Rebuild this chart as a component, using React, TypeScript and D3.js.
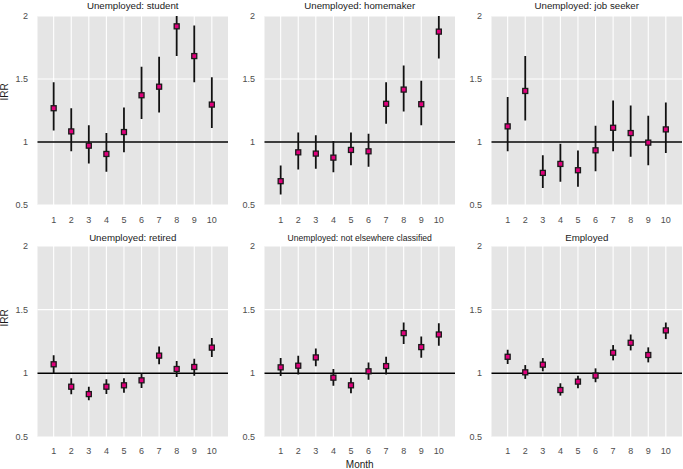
import React from "react";
import * as d3 from "d3";

const months = [1, 2, 3, 4, 5, 6, 7, 8, 9, 10];
const yTicks = [0.5, 1, 1.5, 2];
const yTickLabels = ["0.5", "1", "1.5", "2"];

const panelTitles = [
  "Unemployed: student",
  "Unemployed: homemaker",
  "Unemployed: job seeker",
  "Unemployed: retired",
  "Unemployed: not elsewhere classified",
  "Employed",
];

const studentIRR = [1.268, 1.084, 0.971, 0.905, 1.079, 1.371, 1.439, 1.918, 1.682, 1.297];
const studentLo = [1.092, 0.926, 0.829, 0.763, 0.918, 1.182, 1.234, 1.682, 1.474, 1.111];
const studentHi = [1.474, 1.268, 1.132, 1.071, 1.274, 1.597, 1.676, 2.15, 1.924, 1.513];

const homemakerIRR = [0.689, 0.918, 0.908, 0.876, 0.937, 0.926, 1.303, 1.416, 1.3, 1.876];
const homemakerLo = [0.584, 0.782, 0.787, 0.76, 0.816, 0.803, 1.145, 1.242, 1.132, 1.663];
const homemakerHi = [0.813, 1.076, 1.053, 1.008, 1.076, 1.066, 1.474, 1.608, 1.487, 2.12];

const seekerIRR = [1.124, 1.405, 0.755, 0.826, 0.776, 0.934, 1.113, 1.071, 0.995, 1.1];
const seekerLo = [0.926, 1.171, 0.634, 0.684, 0.645, 0.768, 0.926, 0.882, 0.816, 0.913];
const seekerHi = [1.358, 1.682, 0.895, 0.987, 0.932, 1.129, 1.329, 1.289, 1.208, 1.313];

const retiredIRR = [1.071, 0.895, 0.837, 0.895, 0.906, 0.945, 1.139, 1.034, 1.05, 1.202];
const retiredLo = [1.0, 0.835, 0.788, 0.837, 0.848, 0.885, 1.071, 0.971, 0.982, 1.129];
const retiredHi = [1.142, 0.961, 0.895, 0.953, 0.961, 1.0, 1.21, 1.097, 1.115, 1.278];

const necIRR = [1.047, 1.06, 1.125, 0.966, 0.906, 1.016, 1.057, 1.316, 1.206, 1.305];
const necLo = [0.979, 0.99, 1.055, 0.903, 0.843, 0.95, 0.99, 1.23, 1.123, 1.217];
const necHi = [1.12, 1.138, 1.196, 1.034, 0.966, 1.086, 1.13, 1.399, 1.29, 1.394];

const employedIRR = [1.13, 1.008, 1.068, 0.869, 0.935, 0.982, 1.162, 1.24, 1.144, 1.337];
const employedLo = [1.073, 0.956, 1.016, 0.825, 0.883, 0.93, 1.102, 1.18, 1.086, 1.269];
const employedHi = [1.185, 1.065, 1.12, 0.922, 0.982, 1.039, 1.222, 1.305, 1.204, 1.399];

const seriesIRR = [studentIRR, homemakerIRR, seekerIRR, retiredIRR, necIRR, employedIRR];
const seriesLo = [studentLo, homemakerLo, seekerLo, retiredLo, necLo, employedLo];
const seriesHi = [studentHi, homemakerHi, seekerHi, retiredHi, necHi, employedHi];

const W = 683;
const H = 469;
const colLefts = [37.5, 264.5, 491.5];
const panelW = 190.5;
const rowTops = [16, 246];
const rowBottoms = [205, 437];
const titleBaselines = [8.6, 240.5];
const xTickBaselines = [222.6, 454];
const titleSizes = [9.7, 9.7, 9.7, 9.7, 8.6, 9.7];

const BG = "#E5E5E5";
const TICK_COL = "#4D4D4D";
const FILL = "#E0007C";
const FONT = "'Liberation Sans', Arial, Helvetica, sans-serif";

function Panel({ idx }: { idx: number }) {
  const col = idx % 3;
  const row = Math.floor(idx / 3);
  const left = colLefts[col];
  const top = rowTops[row];
  const bottom = rowBottoms[row];
  const x = d3.scaleLinear().domain([0.08, 10.92]).range([left, left + panelW]);
  const y = d3.scaleLinear().domain([0.5, 2]).range([bottom, top]);
  const clipId = `clip-${idx}`;
  const irr = seriesIRR[idx];
  const lo = seriesLo[idx];
  const hi = seriesHi[idx];
  const sq = 5;
  return (
    <g>
      <defs>
        <clipPath id={clipId}>
          <rect x={left} y={top} width={panelW} height={bottom - top} />
        </clipPath>
      </defs>
      <rect x={left} y={top} width={panelW} height={bottom - top} fill={BG} />
      {yTicks.map((t) => (
        <line key={"gy" + t} x1={left} x2={left + panelW} y1={y(t)} y2={y(t)} stroke="#fff" strokeWidth={1.1} />
      ))}
      {months.map((m) => (
        <line key={"gx" + m} x1={x(m)} x2={x(m)} y1={top} y2={bottom} stroke="#fff" strokeWidth={1.1} />
      ))}
      <line x1={left} x2={left + panelW} y1={y(1)} y2={y(1)} stroke="#000" strokeWidth={1.5} />
      <g clipPath={`url(#${clipId})`}>
        {months.map((m, i) => (
          <line key={"eb" + m} x1={x(m)} x2={x(m)} y1={y(lo[i])} y2={y(hi[i])} stroke="#111" strokeWidth={1.8} />
        ))}
        {months.map((m, i) => (
          <rect
            key={"pt" + m}
            x={x(m) - sq / 2}
            y={y(irr[i]) - sq / 2}
            width={sq}
            height={sq}
            fill={FILL}
            stroke="#1a1a1a"
            strokeWidth={1.3}
          />
        ))}
      </g>
      <text
        x={left + panelW / 2}
        y={titleBaselines[row]}
        textAnchor="middle"
        fontSize={titleSizes[idx]}
        fill="#1a1a1a"
        fontFamily={FONT}
      >
        {panelTitles[idx]}
      </text>
      {yTicks.map((t, i) => (
        <text
          key={"yl" + t}
          x={left - 9.5}
          y={y(t)}
          dy="0.35em"
          textAnchor="end"
          fontSize={9}
          fill={TICK_COL}
          fontFamily={FONT}
        >
          {yTickLabels[i]}
        </text>
      ))}
      {months.map((m) => (
        <text
          key={"xl" + m}
          x={x(m)}
          y={xTickBaselines[row]}
          textAnchor="middle"
          fontSize={9}
          fill={TICK_COL}
          fontFamily={FONT}
        >
          {String(m)}
        </text>
      ))}
    </g>
  );
}

export default function App() {
  return (
    <svg
      width={W}
      height={H}
      viewBox={`0 0 ${W} ${H}`}
      style={{ position: "absolute", left: 0, top: 0, background: "#fff" }}
    >
      <rect x={0} y={0} width={W} height={H} fill="#fff" />
      {panelTitles.map((_, i) => (
        <Panel key={i} idx={i} />
      ))}
      <text transform="translate(7.8,92) rotate(-90)" textAnchor="middle" fontSize={10} fill="#1a1a1a" fontFamily={FONT}>
        IRR
      </text>
      <text transform="translate(7.8,318) rotate(-90)" textAnchor="middle" fontSize={10} fill="#1a1a1a" fontFamily={FONT}>
        IRR
      </text>
      <text x={colLefts[1] + panelW / 2} y={467.5} textAnchor="middle" fontSize={10} fill="#1a1a1a" fontFamily={FONT}>
        Month
      </text>
    </svg>
  );
}
